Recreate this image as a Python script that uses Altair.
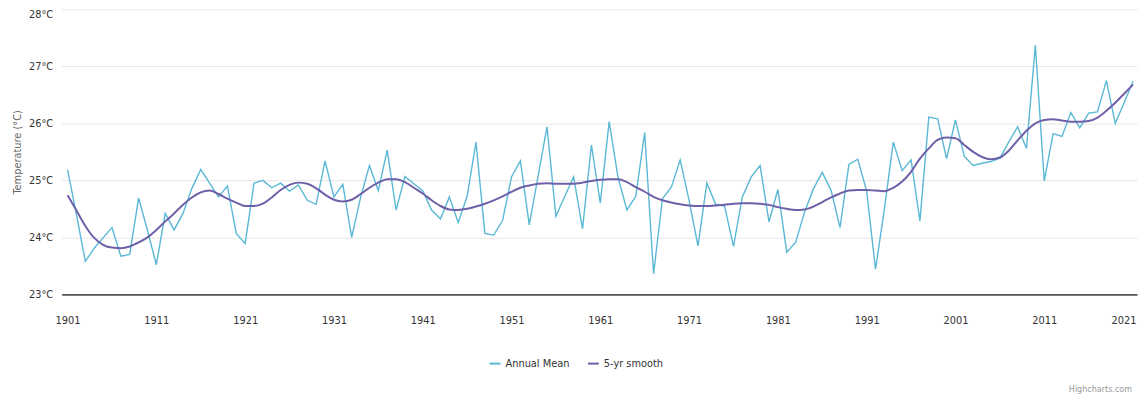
import altair as alt
import pandas as pd

years = list(range(1901, 2022))

annual_mean = [
    25.19, 24.40, 23.58, 23.81, 23.99, 24.17, 23.67, 23.70, 24.69, 24.12,
    23.52, 24.42, 24.13, 24.42, 24.86, 25.19, 24.95, 24.71, 24.90, 24.07,
    23.89, 24.95, 25.00, 24.87, 24.95, 24.81, 24.92, 24.65, 24.58, 25.34,
    24.71, 24.93, 24.00, 24.70, 25.26, 24.82, 25.53, 24.48, 25.07, 24.94,
    24.82, 24.48, 24.32, 24.71, 24.26, 24.72, 25.67, 24.07, 24.04, 24.30,
    25.06, 25.34, 24.22, 25.08, 25.94, 24.37, 24.72, 25.06, 24.15, 25.62,
    24.60, 26.03, 25.05, 24.48, 24.72, 25.84, 23.36, 24.68, 24.88, 25.36,
    24.65, 23.85, 24.95, 24.58, 24.55, 23.84, 24.71, 25.06, 25.26, 24.27,
    24.84, 23.74, 23.91, 24.44, 24.85, 25.14, 24.82, 24.17, 25.28, 25.37,
    24.81, 23.44, 24.50, 25.67, 25.17, 25.36, 24.29, 26.11, 26.08, 25.38,
    26.06, 25.42, 25.26, 25.30, 25.33, 25.39, 25.67, 25.94, 25.56, 27.37,
    24.99, 25.82, 25.77, 26.19, 25.92, 26.18, 26.20, 26.75, 26.00, 26.36,
    26.74,
]

smooth_5yr = [
    24.74, 24.47, 24.20, 23.99, 23.87, 23.82, 23.81, 23.84, 23.91, 24.00,
    24.13, 24.28, 24.42, 24.57, 24.70, 24.79, 24.82, 24.76, 24.68, 24.61,
    24.55, 24.55, 24.59, 24.70, 24.83, 24.92, 24.96, 24.94, 24.86, 24.75,
    24.66, 24.63, 24.66, 24.76, 24.87, 24.96, 25.02, 25.02, 24.97, 24.87,
    24.77, 24.65, 24.55, 24.49, 24.48, 24.50, 24.54, 24.59, 24.65, 24.72,
    24.80, 24.87, 24.91, 24.94, 24.95, 24.94, 24.94, 24.94, 24.96, 24.99,
    25.01, 25.02, 25.02, 24.97, 24.88, 24.80, 24.71, 24.65, 24.61, 24.58,
    24.56, 24.55, 24.55, 24.56, 24.57, 24.59, 24.60, 24.60, 24.59, 24.57,
    24.53, 24.50, 24.48, 24.49, 24.54, 24.62, 24.70, 24.77, 24.82, 24.83,
    24.83, 24.82, 24.81, 24.87, 24.98, 25.15, 25.38, 25.56, 25.71, 25.75,
    25.74, 25.62, 25.50, 25.41, 25.37, 25.40, 25.52, 25.70, 25.87, 26.00,
    26.06, 26.07, 26.05, 26.03, 26.03, 26.04, 26.10, 26.22, 26.36, 26.52,
    26.68,
]

series_names = ["Annual Mean", "5-yr smooth"]
series_colors = ["#5ab8d6", "#6f5fa8"]
x_ticks = list(range(1901, 2022, 10))
y_ticks = [23, 24, 25, 26, 27, 28]
y_title = "Temperature (°C)"
credit_text = "Highcharts.com"

df = pd.concat([
    pd.DataFrame({"year": years, "temp": annual_mean, "series": series_names[0]}),
    pd.DataFrame({"year": years, "temp": smooth_5yr, "series": series_names[1]}),
])

FONT = "Liberation Sans Narrow, DejaVu Sans Condensed, Liberation Sans, Arial, sans-serif"

color = alt.Color(
    "series:N",
    scale=alt.Scale(domain=series_names, range=series_colors),
    legend=alt.Legend(
        title=None,
        orient="none",
        legendX=430,
        legendY=350,
        direction="horizontal",
        symbolType="stroke",
        symbolSize=120,
        symbolStrokeWidth=2,
        labelFontSize=11,
        labelColor="#333333",
        labelFont=FONT,
        columnPadding=14,
    ),
)

x = alt.X(
    "year:Q",
    scale=alt.Scale(domain=[1900.33, 2021.45], nice=False, zero=False),
    axis=alt.Axis(
        values=x_ticks,
        format="d",
        title=None,
        grid=False,
        ticks=False,
        labelPadding=20,
        labelFontSize=11,
        labelColor="#333333",
        labelFont=FONT,
        domainColor="#555555",
        domainWidth=1.6,
        labelFlush=False,
        labelAlign={"condition": {"test": "datum.value >= 2021", "value": "right"}, "value": "center"},
        labelOffset={"condition": {"test": "datum.value >= 2021", "value": 3}, "value": 0},
    ),
)

y = alt.Y(
    "temp:Q",
    scale=alt.Scale(domain=[23, 28], nice=False, zero=False),
    axis=alt.Axis(
        values=y_ticks,
        labelExpr="datum.value + '°C'",
        title=y_title,
        titleFontSize=11,
        titleFontWeight="normal",
        titleColor="#666666",
        titleFont=FONT,
        titlePadding=6,
        grid=True,
        gridColor="#e6e6e6",
        domain=False,
        ticks=False,
        labelPadding=9,
        labelFontSize=11,
        labelColor="#333333",
        labelFont=FONT,
        labelOffset={"condition": {"test": "datum.value >= 28", "value": 5}, "value": 0},
    ),
)

annual = (
    alt.Chart(df)
    .transform_filter(alt.datum.series == series_names[0])
    .mark_line(strokeWidth=1.4)
    .encode(x=x, y=y, color=color)
)

smooth = (
    alt.Chart(df)
    .transform_filter(alt.datum.series == series_names[1])
    .mark_line(strokeWidth=2, interpolate="monotone")
    .encode(x=x, y=y, color=color)
)

credit = (
    alt.Chart(pd.DataFrame({"t": [credit_text]}))
    .mark_text(align="right", baseline="middle", fontSize=9, color="#999999", font=FONT)
    .encode(text="t:N", x=alt.value(1078), y=alt.value(382))
)

chart = (
    alt.layer(annual, smooth, credit)
    .properties(
        width=1083,
        height=287,
        autosize=alt.AutoSizeParams(type="none"),
        padding={"left": 54, "top": 0, "right": 2, "bottom": 100},
    )
    .configure_view(stroke=None)
)

chart.save("out.html", embed_options={"renderer": "svg", "actions": False})
